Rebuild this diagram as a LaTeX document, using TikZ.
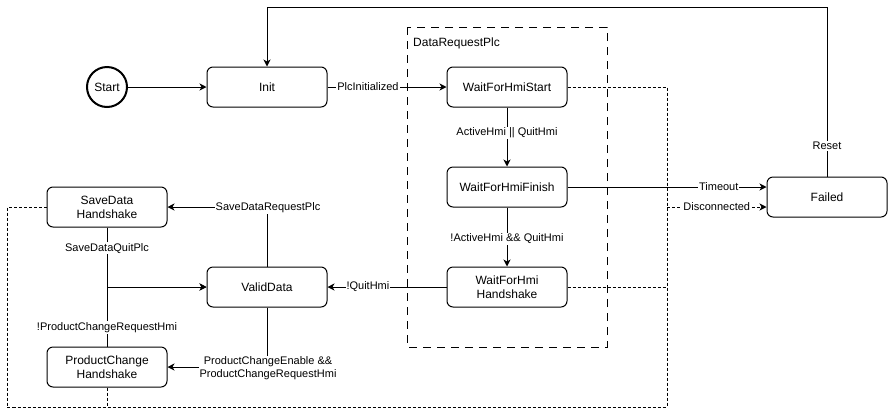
\documentclass[tikz,border=0pt]{standalone}
\usepackage{fontspec}
\setmainfont{Liberation Sans}
\usetikzlibrary{arrows.meta}
\begin{document}
\begin{tikzpicture}[x=1pt,y=-1pt,
  state/.style={draw,rounded corners=6pt,minimum width=120pt,minimum height=40pt,inner sep=0pt,align=center,line width=1pt,font=\fontsize{12}{14}\selectfont},
  startnode/.style={draw,circle,minimum size=40pt,inner sep=0pt,line width=2pt,font=\fontsize{12}{14}\selectfont},
  arr/.style={line width=1pt,-{Stealth[length=7pt,width=7pt,inset=2pt]}},
  plain/.style={line width=1pt},
  darr/.style={line width=1pt,dash pattern=on 3pt off 2pt,-{Stealth[length=7pt,width=7pt,inset=2pt]}},
  dline/.style={line width=1pt,dash pattern=on 3pt off 2pt},
  lbl/.style={fill=white,inner sep=1pt,align=center,font=\fontsize{11}{13}\selectfont},
  container/.style={draw,line width=1pt,dash pattern=on 8pt off 6pt}
]
\useasboundingbox (0,0) rectangle (888,416);
% container
\draw[container] (407,27) rectangle (607,347);
\node[anchor=west,font=\fontsize{12}{14}\selectfont,inner sep=0pt] (grp) at (413,43) {DataRequestPlc};
% nodes
\node[startnode] (start) at (107,87) {Start};
\node[state] (init) at (267,87) {Init};
\node[state] (wfhs) at (507,87) {WaitForHmiStart};
\node[state] (wfhf) at (507,187) {WaitForHmiFinish};
\node[state] (wfhh) at (507,287) {WaitForHmi\\Handshake};
\node[state] (failed) at (827,197) {Failed};
\node[state] (sdh) at (107,207) {SaveData\\Handshake};
\node[state] (vd) at (267,287) {ValidData};
\node[state] (pch) at (107,367) {ProductChange\\Handshake};
% coordinates
\coordinate (r1) at (827,7);
\coordinate (r2) at (267,7);
\coordinate (c1) at (267,207);
\coordinate (c2) at (267,367);
\coordinate (s1) at (107,287);
\coordinate (j) at (667,207);
\coordinate (d1) at (667,87);
\coordinate (d2) at (667,287);
\coordinate (d3) at (667,407);
\coordinate (d4) at (107,407);
\coordinate (d5) at (7,407);
\coordinate (d6) at (7,207);
% dashed connectors
\draw[dline] (wfhs.east) -- (d1) -- (d3);
\draw[dline] (wfhh.east) -- (d2);
\draw[dline] (pch.south) -- (d4);
\draw[dline] (sdh.west) -- (d6) -- (d5) -- (d3);
\draw[darr] (j) -- node[lbl,pos=0.5]{Disconnected} (failed.west |- j);
% solid connectors
\draw[arr] (start) -- (init);
\draw[arr] (init) -- node[lbl,pos=0.34]{PlcInitialized} (wfhs);
\draw[arr] (wfhs) -- node[lbl,pos=0.43]{ActiveHmi || QuitHmi} (wfhf);
\draw[arr] (wfhf) -- node[lbl,pos=0.53]{!ActiveHmi \&\& QuitHmi} (wfhh);
\draw[arr] (wfhf.east) -- node[lbl,pos=0.76]{Timeout} (failed.west |- wfhf.east);
\draw[arr] (failed.north) -- node[lbl,pos=0.18]{Reset} (r1) -- (r2) -- (init.north);
\draw[arr] (wfhh.west) -- node[lbl,pos=0.66]{!QuitHmi} (vd.east);
\draw[arr] (vd.north) -- (c1) -- (sdh.east);
\node[lbl] (l1) at (268,208) {SaveDataRequestPlc};
\draw[arr] (vd.south) -- (c2) -- (pch.east);
\node[lbl,font=\fontsize{11}{12.5}\selectfont] (l2) at (268,368) {ProductChangeEnable \&\&\\ProductChangeRequestHmi};
\draw[arr] (sdh.south) -- node[lbl,pos=0.35]{SaveDataQuitPlc} (s1) -- (vd.west);
\draw[arr] (pch.north) -- node[lbl,pos=0.32]{!ProductChangeRequestHmi} (s1) -- (vd.west);
\end{tikzpicture}
\end{document}
